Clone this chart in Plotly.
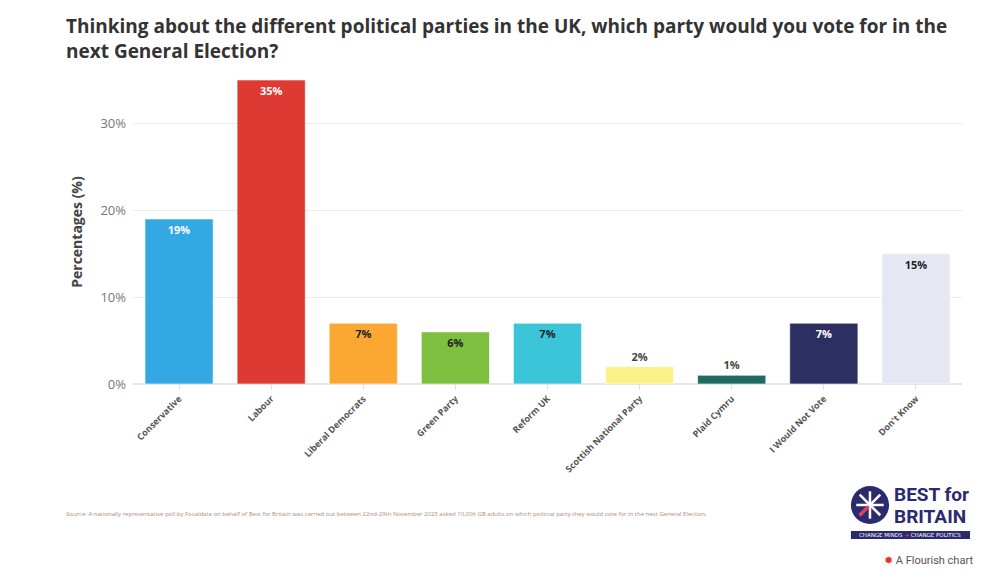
import plotly.graph_objects as go

# Poll results (Focaldata for Best for Britain, Nov 2023)
parties = [
    "Conservative", "Labour", "Liberal Democrats", "Green Party", "Reform UK",
    "Scottish National Party", "Plaid Cymru", "I Would Not Vote", "Don't Know",
]
percentages = [19, 35, 7, 6, 7, 2, 1, 7, 15]
bar_colors = [
    "#33a8e3", "#dc3a32", "#fba832", "#7fbf3f", "#3ac5d8",
    "#fbf28a", "#1f6b5f", "#2d2f63", "#e5e8f2",
]
label_colors = [
    "#ffffff", "#ffffff", "#222222", "#222222", "#222222",
    "#333333", "#333333", "#ffffff", "#222222",
]
label_positions = [
    "inside", "inside", "inside", "inside", "inside",
    "outside", "outside", "inside", "inside",
]
y_ticks = [0, 10, 20, 30]

TITLE = ("Thinking about the different political parties in the UK, which party would you vote for in the"
         "<br>next General Election?")
SOURCE = ("Source: A nationally representative poll by Focaldata on behalf of Best for Britain was carried out "
          "between 22nd-29th November 2023 asked 10,006 GB adults on which political party they would vote "
          "for in the next General Election.")

FONT = "Open Sans, Noto Sans, sans-serif"
LOGO_FONT = "Liberation Sans Narrow, Roboto, sans-serif"
NAVY = "#2b2a6e"

fig = go.Figure()
fig.add_trace(go.Bar(
    x=parties,
    y=percentages,
    marker=dict(color=bar_colors, line=dict(width=1, color="rgba(255,255,255,0.6)")),
    text=[f"{v}%" for v in percentages],
    textposition=label_positions,
    insidetextanchor="end",
    textangle=0,
    textfont=dict(family=FONT, size=11, color=label_colors, weight="bold"),
    outsidetextfont=dict(family=FONT, size=11, color="#444444", weight="bold"),
    cliponaxis=False,
    hoverinfo="skip",
))

# page has an 8px body margin, so the figure is sized 984x572
fig.update_layout(
    width=984,
    height=572,
    margin=dict(l=125, r=30, t=72, b=196),
    plot_bgcolor="white",
    paper_bgcolor="white",
    font=dict(family=FONT, color="#333"),
    showlegend=False,
    bargap=0.26,
    xaxis=dict(
        tickangle=-45,
        tickfont=dict(family=FONT, size=9, color="#555555", weight="bold"),
        ticks="outside", ticklen=5, tickcolor="#e0e0e0",
        showline=False, showgrid=False,
    ),
    yaxis=dict(
        range=[0, 35],
        tickvals=y_ticks,
        ticktext=[f"{v}%" for v in y_ticks],
        tickfont=dict(family=FONT, size=13, color="#777777"),
        showgrid=True, gridcolor="#ececec", gridwidth=1,
        zeroline=True, zerolinecolor="#e6e6e6", zerolinewidth=2,
        ticks="", ticklabelstandoff=6,
        title=dict(text="Percentages (%)", standoff=14,
                   font=dict(family=FONT, size=14, color="#444444", weight="bold")),
    ),
)

# Title
fig.add_annotation(
    text=TITLE, xref="paper", yref="paper", x=-0.0832, y=1.228,
    xanchor="left", yanchor="top", align="left", showarrow=False,
    font=dict(family=FONT, size=19, color="#333333", weight="bold"),
)

# Source note
fig.add_annotation(
    text=SOURCE, xref="paper", yref="paper", x=-0.083, y=-0.428,
    xanchor="left", yanchor="middle", showarrow=False,
    font=dict(family=FONT, size=6, color="#a88c78"),
)

# Best for Britain logo (approximation)
cx0, cx1, cy0, cy1 = 0.866, 0.912, -0.4605, -0.3355
fig.add_shape(type="circle", xref="paper", yref="paper",
              x0=cx0, x1=cx1, y0=cy0, y1=cy1, fillcolor=NAVY, line=dict(width=0))
mx, my = (cx0 + cx1) / 2, (cy0 + cy1) / 2
hx, hy = (cx1 - cx0) * 0.36, (cy1 - cy0) * 0.36
for x0, y0, x1, y1 in [(mx - hx, my, mx + hx, my), (mx, my - hy, mx, my + hy),
                       (mx - hx * 0.75, my - hy * 0.75, mx + hx * 0.75, my + hy * 0.75),
                       (mx - hx * 0.75, my + hy * 0.75, mx + hx * 0.75, my - hy * 0.75)]:
    fig.add_shape(type="line", xref="paper", yref="paper", x0=x0, y0=y0, x1=x1, y1=y1,
                  line=dict(color="white", width=2.5))
fig.add_shape(type="line", xref="paper", yref="paper", x0=mx - hx * 0.75, y0=my - hy * 0.75,
              x1=mx - hx * 0.1, y1=my - hy * 0.1, line=dict(color="#e8375a", width=3))

fig.add_annotation(text="<b>BEST for</b>", xref="paper", yref="paper",
                   x=0.9155, y=-0.363, xanchor="left", yanchor="middle", showarrow=False,
                   font=dict(family=LOGO_FONT, size=19, color=NAVY))
fig.add_annotation(text="<b>BRITAIN</b>", xref="paper", yref="paper",
                   x=0.9155, y=-0.436, xanchor="left", yanchor="middle", showarrow=False,
                   font=dict(family=LOGO_FONT, size=19, color=NAVY))
fig.add_shape(type="rect", xref="paper", yref="paper", x0=0.866, x1=1.0097, y0=-0.51, y1=-0.4836,
              fillcolor=NAVY, line=dict(width=0))
fig.add_annotation(text="CHANGE MINDS <span style='color:#e8375a'>➜</span> CHANGE POLITICS",
                   xref="paper", yref="paper", x=(0.866 + 1.0097) / 2, y=-0.4968,
                   xanchor="center", yanchor="middle", showarrow=False,
                   font=dict(family="DejaVu Sans, sans-serif", size=5.5, color="white"))
fig.add_annotation(text="<span style='color:#e0352b'>✹</span> A Flourish chart",
                   xref="paper", yref="paper", x=1.0157, y=-0.582, xanchor="right", yanchor="middle",
                   showarrow=False, font=dict(family="Roboto, sans-serif", size=11, color="#555555"))

fig.write_html("out.html")
